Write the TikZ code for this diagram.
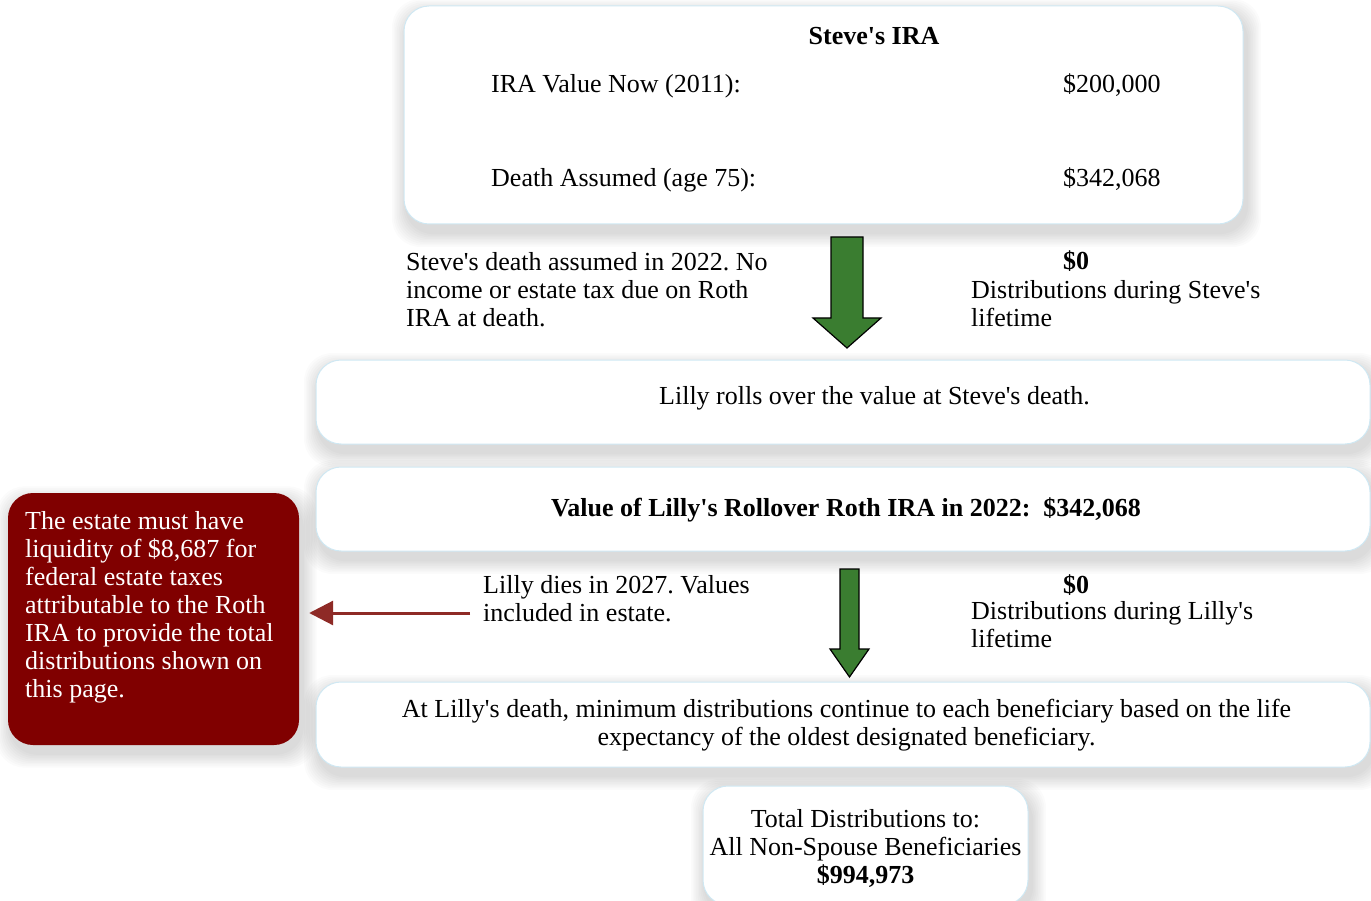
\documentclass[tikz,border=0pt]{standalone}
\usepackage{fontspec}
\setmainfont{Liberation Serif}[Ligatures=TeXOff]
\usetikzlibrary{arrows.meta}
\pgfdeclarelayer{background}
\pgfsetlayers{background,main}
\definecolor{boxline}{HTML}{CFE8F3}
\definecolor{arrowgreen}{HTML}{3A7D30}
\definecolor{darkred}{HTML}{800000}
\definecolor{linkred}{HTML}{8E2A26}
\tikzset{
  box/.style={draw=boxline, line width=1pt, fill=white, rounded corners=25pt},
  redbox/.style={fill=darkred, rounded corners=25pt},
  shadowpiece/.style={fill=black, fill opacity=0.016, rounded corners=28pt},
  txt/.style={font=\fontsize{26}{28}\selectfont\frenchspacing, inner sep=0pt, align=left},
  txtc/.style={font=\fontsize{26}{28}\selectfont\frenchspacing, inner sep=0pt, align=center},
  blockarrow/.style={fill=arrowgreen, draw=black, line width=1.2pt, line join=miter},
}
\newcommand\shadowof[1]{%
  \foreach \i in {1,...,9}{%
    \fill[shadowpiece] ([shift={({3-1.6*\i},{8-1.6*\i})}]#1.north west) rectangle ([shift={({3+1.6*\i},{8+1.6*\i})}]#1.south east);
  }}
\begin{document}
\begin{tikzpicture}[x=1pt,y=-1pt]
\clip (0,0) rectangle (1371,901);

% boxes
\node[box, minimum width=839pt, minimum height=218pt] (steve) at (823.5,115) {};
\node[box, minimum width=1054pt, minimum height=84pt] (roll) at (843,402) {};
\node[box, minimum width=1054pt, minimum height=84pt] (value) at (843,509) {};
\node[box, minimum width=1054pt, minimum height=85pt] (death) at (843,724.5) {};
\node[box, minimum width=325pt, minimum height=119pt] (total) at (865.5,845.5) {};
\node[redbox, minimum width=291pt, minimum height=252pt] (estate) at (153.5,619) {};

\begin{pgfonlayer}{background}
\fill[white] (0,0) rectangle (1371,901);
\shadowof{steve}
\shadowof{roll}
\shadowof{value}
\shadowof{death}
\shadowof{total}
\shadowof{estate}
\end{pgfonlayer}

% texts in Steve's box
\node[txt, anchor=base] (t1) at (874,45) {\textbf{Steve's IRA}};
\node[txt, anchor=base west] (t2) at (491,93) {IRA Value Now (2011):};
\node[txt, anchor=base west] (t3) at (1063,93) {\$200,000};
\node[txt, anchor=base west] (t4) at (491,187) {Death Assumed (age 75):};
\node[txt, anchor=base west] (t5) at (1063,187) {\$342,068};

% between steve and roll (north anchors: top = first baseline - 19.6)
\node[txt, anchor=north west] (t6) at (406,250.4) {\strut Steve's death assumed in 2022. No\\income or estate tax due on Roth\\IRA at death.};
\node[txt, anchor=base] (t7) at (1076,270) {\textbf{\$0}};
\node[txt, anchor=north west] (t8) at (971,278.4) {\strut Distributions during Steve's\\lifetime};

\node[txt, anchor=base] (t9) at (874.5,404) {Lilly rolls over the value at Steve's death.};
\node[txt, anchor=base] (t10) at (846,516) {\textbf{Value of Lilly's Rollover Roth IRA in 2022:\ \ \$342,068}};

\node[txt, anchor=north west] (t11) at (483,573.4) {\strut Lilly dies in 2027. Values\\included in estate.};
\node[txt, anchor=base] (t12) at (1076,593) {\textbf{\$0}};
\node[txt, anchor=north west] (t13) at (971,599.4) {\strut Distributions during Lilly's\\lifetime};

\node[txtc, anchor=north] (t14) at (846.5,697.4) {\strut At Lilly's death, minimum distributions continue to each beneficiary based on the life\\expectancy of the oldest designated beneficiary.};

\node[txtc, anchor=north] (t15) at (865.5,807.4) {\strut Total Distributions to:\\All Non-Spouse Beneficiaries\\\textbf{\$994,973}};

\node[txt, anchor=north west, text=white] (t16) at (25,509.4) {\strut The estate must have\\liquidity of \$8,687 for\\federal estate taxes\\attributable to the Roth\\IRA to provide the total\\distributions shown on\\this page.};

% green block arrows
\draw[blockarrow] (831,237) -- (863,237) -- (863,318) -- (881,318) -- (847,348) -- (813,318) -- (831,318) -- cycle;
\draw[blockarrow] (840,569) -- (859,569) -- (859,649) -- (869,649) -- (849.5,677) -- (830,649) -- (840,649) -- cycle;

% red arrow
\coordinate (rs) at (470,613);
\draw[linkred, line width=3pt, -{Triangle[length=24pt, width=24pt]}, shorten >=10pt] (rs) -- (rs -| estate.east);
\end{tikzpicture}
\end{document}
